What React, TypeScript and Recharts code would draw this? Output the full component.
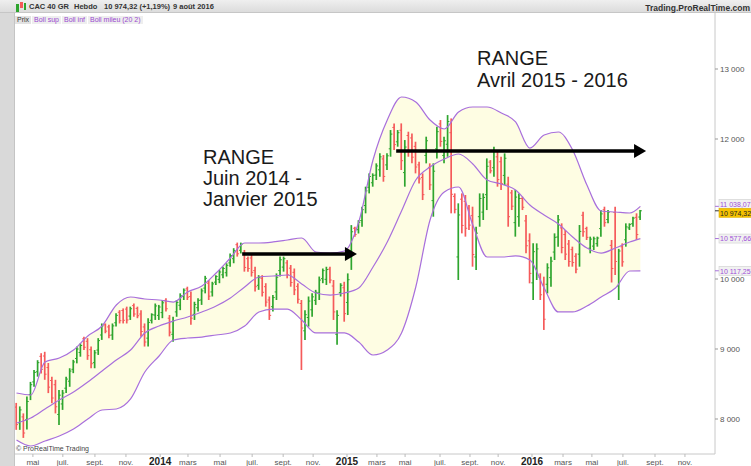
import React from 'react';
import { ComposedChart, Bar, Line, Area, XAxis, YAxis, ReferenceLine, ReferenceDot } from 'recharts';

// ---------- DATA (weekly bars, CAC 40 GR, index 0 = first week shown) ----------
const highs = [
  8230, 8180, 8080, 8320, 8530, 8700, 8840, 8940, 8960, 8800,
  8605, 8560, 8415, 8415, 8605, 8725, 8845, 9035, 9080, 9175,
  9155, 9035, 8985, 9155, 9365, 9365, 9345, 9365, 9510, 9555,
  9580, 9605, 9605, 9650, 9605, 9555, 9365, 9440, 9510, 9650,
  9630, 9700, 9725, 9485, 9460, 9700, 9795, 9865, 9890, 9820,
  9675, 9725, 9865, 10045, 9985, 9960, 10055, 10130, 10175, 10225,
  10365, 10440, 10520, 10520, 10415, 10320, 10345, 10175, 10055, 10055,
  9940, 9750, 9770, 10080, 10320, 10320, 10270, 10200, 10150, 9940,
  9700, 9555, 9750, 9795, 9845, 10035, 10150, 10175, 10175, 9985,
  9555, 9940, 9960, 10080, 10770, 10745, 10840,
  11033, 11319, 11509, 11509, 11652, 11795, 11771, 11795, 12128, 12223,
  12128, 12223, 11985, 12104, 12080, 11961, 11676, 11509, 12033, 11652,
  11652, 12175, 12271, 12033, 12342, 12294, 11223, 11081, 11223, 11200,
  11057, 11033, 10747, 11223, 11223, 11723, 11699, 11890, 11818, 11747,
  11795, 11461, 11271, 11271, 11223, 11176, 10914, 10652, 10509, 10509,
  10081, 10033, 10224, 10319, 10652, 10914, 10795, 10700, 10557, 10462,
  10367, 10771, 10962, 10747, 10605, 10605, 10605, 10985, 11033, 10985,
  10557, 11033, 10430, 10509, 10795, 10795, 10890, 10938, 10985,
];
const lows = [
  7845, 7845, 7730, 7850, 8270, 8460, 8605, 8650, 8560, 8370,
  8225, 8080, 7915, 8130, 8370, 8460, 8655, 8795, 8890, 8985,
  8845, 8725, 8725, 8915, 9130, 9225, 9155, 9130, 9320, 9365,
  9365, 9365, 9415, 9460, 9440, 9175, 9035, 9035, 9365, 9415,
  9415, 9440, 9535, 9180, 9105, 9460, 9555, 9700, 9700, 9345,
  9415, 9535, 9630, 9795, 9700, 9750, 9915, 9940, 10010, 10035,
  10175, 10225, 10320, 10365, 10105, 10105, 10035, 9820, 9845, 9750,
  9605, 9415, 9535, 9700, 10035, 10105, 10010, 9890, 9770, 9650,
  8700, 9130, 9320, 9460, 9630, 9700, 9940, 9915, 9940, 9415,
  9060, 9750, 9390, 9485, 10130, 10605, 10650,
  10747, 10938, 11223, 11319, 11414, 11461, 11390, 11557, 11747, 11842,
  11890, 11557, 11319, 11747, 11652, 11509, 11366, 11128, 11652, 11271,
  10890, 11723, 11890, 11652, 11747, 10938, 10938, 9986, 10652, 10605,
  10700, 10176, 10129, 10747, 10843, 10985, 11509, 11461, 11319, 11271,
  11342, 10747, 10985, 10605, 10747, 10985, 10367, 9938, 9700, 9986,
  9700, 9272, 9795, 9891, 10271, 10462, 10367, 10271, 10176, 10176,
  10081, 10176, 10605, 10557, 10367, 10414, 10462, 10605, 10747, 10795,
  9950, 10057, 9700, 10176, 10462, 10700, 10747, 10557, 10843,
];
const opens = [
  8170, 7945, 8030, 7990, 8350, 8530, 8675, 8895, 8900, 8735,
  8550, 8490, 8065, 8215, 8440, 8540, 8710, 8865, 8950, 9145,
  9110, 8990, 8805, 8985, 9200, 9345, 9315, 9200, 9375, 9525,
  9550, 9570, 9470, 9620, 9580, 9500, 9315, 9155, 9410, 9485,
  9480, 9520, 9695, 9440, 9210, 9530, 9625, 9750, 9860, 9750,
  9495, 9590, 9700, 9870, 9940, 9815, 9955, 9995, 10060, 10090,
  10230, 10290, 10490, 10410, 10370, 10290, 10300, 10120, 9910, 10010,
  9890, 9700, 9605, 9815, 10120, 10170, 10230, 10155, 10095, 9895,
  9650, 9260, 9450, 9560, 9695, 9800, 10005, 9995, 10140, 9900,
  9210, 9805, 9875, 9665, 10320, 10725, 10705,
  10835, 11050, 11310, 11375, 11485, 11560, 11715, 11630, 11860, 12165,
  11960, 12125, 11520, 12050, 12015, 11895, 11630, 11450, 11765, 11595,
  11120, 11860, 12215, 11765, 11925, 12090, 11180, 10315, 11140, 11110,
  11005, 10905, 10315, 10890, 10955, 11205, 11670, 11590, 11745, 11675,
  11480, 11355, 11230, 10805, 10890, 11150, 10830, 10545, 9945, 10145,
  10025, 9920, 9925, 10020, 10385, 10600, 10730, 10635, 10500, 10420,
  10325, 10355, 10910, 10720, 10440, 10470, 10505, 10720, 10990, 10850,
  10480, 10950, 9900, 10460, 10560, 10730, 10790, 10880, 10885,
];
const closes = [
  7920, 8130, 7800, 8250, 8490, 8665, 8805, 8710, 8640, 8455,
  8300, 8175, 8340, 8370, 8570, 8685, 8815, 9000, 9050, 9025,
  8905, 8790, 8945, 9120, 9330, 9255, 9195, 9330, 9480, 9405,
  9410, 9415, 9575, 9500, 9475, 9250, 9100, 9380, 9490, 9615,
  9600, 9660, 9575, 9240, 9405, 9665, 9760, 9840, 9740, 9440,
  9635, 9695, 9830, 10010, 9755, 9930, 10035, 10100, 10150, 10195,
  10335, 10405, 10360, 10495, 10165, 10150, 10095, 9890, 10025, 9810,
  9670, 9480, 9735, 10025, 10275, 10290, 10060, 9950, 9845, 9710,
  9300, 9490, 9685, 9745, 9810, 9985, 10120, 10135, 9985, 9530,
  9480, 9910, 9505, 9990, 10675, 10635, 10810,
  10990, 11260, 11465, 11480, 11615, 11745, 11465, 11760, 12070, 11920,
  12090, 11690, 11885, 11820, 11740, 11600, 11430, 11205, 11975, 11345,
  11540, 12105, 11965, 11975, 12250, 11210, 10995, 10915, 10765, 10725,
  10770, 10350, 10655, 11150, 11165, 11610, 11545, 11825, 11420, 11365,
  11725, 10890, 11040, 11170, 11150, 11025, 10475, 10080, 10390, 10430,
  9775, 9425, 10160, 10255, 10595, 10845, 10450, 10355, 10250, 10235,
  10140, 10680, 10675, 10595, 10570, 10575, 10585, 10930, 10805, 10955,
  10150, 10250, 10400, 10245, 10745, 10780, 10870, 10635, 10974.32,
];

// Bollinger bands (20,2) read every 4 weeks
const bandWeeks = [0, 4, 8, 12, 16, 20, 24, 28, 32, 36, 40, 44, 48, 52, 56, 60, 64, 68, 72, 76, 80, 84, 88, 92, 96, 100, 104, 108, 112, 116, 120, 124, 128, 132, 136, 140, 144, 148, 152, 156, 160, 164, 168, 172, 175];
const upperBand = [8371, 8343, 8814, 8871, 8986, 9186, 9329, 9629, 9743, 9714, 9700, 9671, 9814, 9900, 10086, 10300, 10514, 10514, 10529, 10557, 10586, 10386, 10371, 10400, 10814, 11700, 12271, 12600, 12529, 12271, 12143, 12386, 12457, 12457, 12371, 12243, 11871, 12057, 12100, 11843, 11343, 10971, 10957, 10943, 11038.07];
const middleBand = [7943, 8014, 8143, 8271, 8386, 8529, 8686, 8843, 8986, 9229, 9329, 9400, 9457, 9529, 9614, 9729, 9886, 10029, 10043, 10057, 9929, 9800, 9771, 9800, 9871, 10171, 10529, 10971, 11414, 11600, 11714, 11786, 11643, 11414, 11357, 11271, 11057, 10914, 10786, 10600, 10443, 10371, 10443, 10529, 10577.66];
const lowerBand = [7700, 7614, 7686, 7757, 7857, 8000, 8129, 8143, 8286, 8671, 8900, 9129, 9157, 9171, 9200, 9229, 9329, 9529, 9571, 9571, 9414, 9229, 9229, 9229, 9100, 8914, 8986, 9229, 9886, 10843, 11243, 11314, 10771, 10314, 10314, 10329, 10271, 9871, 9529, 9529, 9614, 9743, 9871, 10114, 10117.25];

// x axis (weeks) ticks and labels
const xTicks = [4.6, 13.0, 22.0, 30.7, 40.3, 48.1, 57.1, 66.1, 74.8, 83.2, 92.7, 101.1, 109.0, 118.8, 127.2, 135.1, 144.6, 153.3, 161.4, 170.1, 179.1, 187.5];
const xTickLabels = ['mai', 'juil.', 'sept.', 'nov.', '2014', 'mars', 'mai', 'juil.', 'sept.', 'nov.', '2015', 'mars', 'mai', 'juil.', 'sept.', 'nov.', '2016', 'mars', 'mai', 'juil.', 'sept.', 'nov.'];
const yTicks = [8000, 9000, 10000, 12000, 13000];

// annotation arrows (week from, week to, level)
const arrowFrom = [63.3, 106.5];
const arrowTo = [95.5, 176.6];
const arrowLevel = [10357, 11829];

// last values shown on the right scale
const lastValues = [11038.07, 10974.32, 10577.66, 10117.25];
const lastValueTexts = ['11 038,07', '10 974,32', '10 577,66', '10 117,25'];
const lastValueKinds = ['band', 'price', 'band', 'band'];
const lastValueShift = [-2.5, 2, 0, 0];

// ---------- derived tables ----------
const ohlc = highs.map((h, i) => ({
  i,
  high: h,
  low: lows[i],
  open: opens[i],
  close: closes[i],
  range: [lows[i], h],
}));
const bandTable = bandWeeks.map((w, k) => ({
  i: w,
  upper: upperBand[k],
  middle: middleBand[k],
  lower: lowerBand[k],
  band: [lowerBand[k], upperBand[k]],
}));

const X_MIN = -0.42;
const X_MAX = 195.93;
const FONT = "'Liberation Sans', Arial, sans-serif";
const GREEN = '#2ea52e';
const RED = '#f55a5a';
const PURPLE = '#a86fdc';

function OhlcShape(props: any) {
  const { x, y, width, height, payload } = props;
  if (x == null || y == null || !payload) return null;
  const cx = x + width / 2;
  const span = payload.high - payload.low || 1;
  const yO = y + ((payload.high - payload.open) / span) * height;
  const yC = y + ((payload.high - payload.close) / span) * height;
  const col = payload.close >= payload.open ? GREEN : RED;
  return (
    <g stroke={col}>
      <line x1={cx} x2={cx} y1={y} y2={y + height} strokeWidth={1.7} />
      <line x1={cx - 1.8} x2={cx} y1={yO} y2={yO} strokeWidth={1} />
      <line x1={cx} x2={cx + 1.8} y1={yC} y2={yC} strokeWidth={1} />
    </g>
  );
}

function ArrowShape(props: any) {
  const { x1, y1, x2, y2 } = props;
  if (x1 == null) return null;
  const head = 12;
  const half = 7;
  return (
    <g>
      <line x1={x1} y1={y1} x2={x2 - head + 1} y2={y2} stroke="#000" strokeWidth={3.4} />
      <polygon points={`${x2},${y2} ${x2 - head},${y2 - half} ${x2 - head},${y2 + half}`} fill="#000" />
    </g>
  );
}

function makeValueLabel(k: number) {
  return (props: any) => {
    const { cx, cy } = props;
    if (cx == null || cy == null) return null;
    const isPrice = lastValueKinds[k] === 'price';
    const by = cy + lastValueShift[k];
    return (
      <g>
        <line x1={cx} x2={cx + 4} y1={cy} y2={cy} stroke={isPrice ? '#333' : PURPLE} strokeWidth={1} />
        <rect x={cx + 4} y={by - 4.5} width={40} height={9} fill={isPrice ? '#f6c200' : '#f1f1f1'} stroke={isPrice ? '#e0b000' : '#cfcfcf'} strokeWidth={0.6} />
        <text x={cx + 5} y={by + 2.8} fontSize={7} fontFamily={FONT} fill={isPrice ? '#222' : '#a050d8'}>
          {lastValueTexts[k]}
        </text>
      </g>
    );
  };
}

function XTick(props: any) {
  const { x, payload } = props;
  const idx = xTicks.indexOf(payload.value);
  const label = idx >= 0 ? xTickLabels[idx] : '';
  const isYear = /^\d{4}$/.test(label);
  return (
    <text
      x={x}
      y={465}
      textAnchor="middle"
      fontSize={isYear ? 10 : 8}
      fontWeight={isYear ? 'bold' : 'normal'}
      fill={isYear ? '#222' : '#555'}
      fontFamily={FONT}
    >
      {label}
    </text>
  );
}

const fmtY = (v: number) => `${Math.floor(v / 1000)} ${String(v % 1000).padStart(3, '0')}`;

function YTick(props: any) {
  const { x, y, payload } = props;
  return (
    <text x={x} y={y} dy={3} textAnchor="start" fontSize={8} fill="#555" fontFamily={FONT}>
      {fmtY(payload.value)}
    </text>
  );
}

export default function App() {
  return (
    <div style={{ position: 'absolute', left: 0, top: 0, width: 751, height: 466, background: '#fff', overflow: 'hidden', fontFamily: FONT }}>
      <div style={{ position: 'absolute', left: 0, top: 0 }}>
        <ComposedChart width={751} height={466} data={ohlc} margin={{ top: 13, right: 0, bottom: 0, left: 15 }}>
          <XAxis
            dataKey="i"
            type="number"
            domain={[X_MIN, X_MAX]}
            allowDataOverflow
            ticks={xTicks}
            interval={0}
            tick={<XTick />}
            tickSize={3}
            tickLine={{ stroke: '#bbb' }}
            axisLine={{ stroke: '#c8c8c8' }}
            height={12}
          />
          <YAxis
            orientation="right"
            type="number"
            domain={[7500, 13800]}
            allowDataOverflow
            ticks={yTicks}
            interval={0}
            tick={<YTick />}
            tickSize={3}
            tickMargin={2}
            tickLine={{ stroke: '#999' }}
            axisLine={{ stroke: '#c8c8c8' }}
            width={36}
          />
          <Area
            data={bandTable}
            dataKey="band"
            type="monotone"
            fill="#fefde3"
            fillOpacity={1}
            stroke="none"
            isAnimationActive={false}
          />
          <Bar dataKey="range" barSize={3} shape={OhlcShape} isAnimationActive={false} />
          <Line data={bandTable} dataKey="upper" type="monotone" stroke={PURPLE} strokeWidth={1.2} dot={false} isAnimationActive={false} />
          <Line data={bandTable} dataKey="middle" type="monotone" stroke={PURPLE} strokeWidth={1.2} dot={false} isAnimationActive={false} />
          <Line data={bandTable} dataKey="lower" type="monotone" stroke={PURPLE} strokeWidth={1.2} dot={false} isAnimationActive={false} />
          {arrowFrom.map((f, k) => (
            <ReferenceLine
              key={'arr' + k}
              segment={[{ x: f, y: arrowLevel[k] }, { x: arrowTo[k], y: arrowLevel[k] }]}
              shape={ArrowShape}
              ifOverflow="visible"
            />
          ))}
          {lastValues.map((v, k) => (
            <ReferenceDot key={'lv' + k} x={X_MAX} y={v} r={0} ifOverflow="visible" shape={makeValueLabel(k)} />
          ))}
        </ComposedChart>
      </div>

      {/* header bar */}
      <div style={{ position: 'absolute', left: 0, top: 0, width: 751, height: 13, background: 'linear-gradient(#efefef,#dcdcdc)', borderBottom: '1px solid #c6c6c6', boxSizing: 'border-box' }}>
        <div style={{ position: 'absolute', left: 16, top: 4, width: 3, height: 8, background: '#2ea52e' }} />
        <div style={{ position: 'absolute', left: 20, top: 2, width: 3, height: 6, background: '#f55a5a' }} />
        <div style={{ position: 'absolute', left: 24, top: 3, width: 2, height: 7, background: '#2ea52e' }} />
        <span style={{ position: 'absolute', left: 29, top: 2, fontSize: 7.5, lineHeight: '9px', fontWeight: 'bold', color: '#333', whiteSpace: 'nowrap' }}>CAC 40 GR</span>
        <span style={{ position: 'absolute', left: 74, top: 2, fontSize: 7.5, lineHeight: '9px', fontWeight: 'bold', color: '#333', whiteSpace: 'nowrap' }}>Hebdo</span>
        <span style={{ position: 'absolute', left: 104, top: 2, fontSize: 7.5, lineHeight: '9px', fontWeight: 'bold', color: '#333', whiteSpace: 'nowrap' }}>10 974,32 (+1,19%)</span>
        <span style={{ position: 'absolute', left: 173, top: 2, fontSize: 7.5, lineHeight: '9px', fontWeight: 'bold', color: '#333', whiteSpace: 'nowrap' }}>9 août 2016</span>
        <span style={{ position: 'absolute', right: 1, top: 3, fontSize: 8.5, lineHeight: '10px', fontWeight: 'bold', color: '#333', whiteSpace: 'nowrap' }}>Trading.ProRealTime.com</span>
      </div>

      {/* legend row */}
      <div style={{ position: 'absolute', left: 15, top: 16, display: 'flex', gap: 1, fontSize: 7, lineHeight: '8px' }}>
        <span style={{ background: '#e2e2e2', color: '#333', padding: '0 2px' }}>Prix</span>
        <span style={{ background: '#eeeeee', color: '#9a48d0', padding: '0 2px' }}>Boll sup</span>
        <span style={{ background: '#eeeeee', color: '#9a48d0', padding: '0 2px' }}>Boll inf</span>
        <span style={{ background: '#eeeeee', color: '#9a48d0', padding: '0 2px' }}>Boll mileu (20 2)</span>
      </div>

      {/* left strip */}
      <div style={{ position: 'absolute', left: 0, top: 13, width: 14, height: 453, background: '#d9d9d9', borderRight: '1px solid #c4c4c4' }} />

      {/* copyright */}
      <div style={{ position: 'absolute', left: 16, top: 445, fontSize: 7, lineHeight: '8px', color: '#444', whiteSpace: 'nowrap' }}>© ProRealTime Trading</div>

      {/* annotations */}
      <div style={{ position: 'absolute', left: 203, top: 147, fontSize: 20, lineHeight: '21px', color: '#1a1a1a', whiteSpace: 'nowrap' }}>
        RANGE<br />Juin 2014 -<br />Janvier 2015
      </div>
      <div style={{ position: 'absolute', left: 477, top: 47, fontSize: 20, lineHeight: '22px', color: '#1a1a1a', whiteSpace: 'nowrap' }}>
        RANGE<br />Avril 2015 - 2016
      </div>
    </div>
  );
}
